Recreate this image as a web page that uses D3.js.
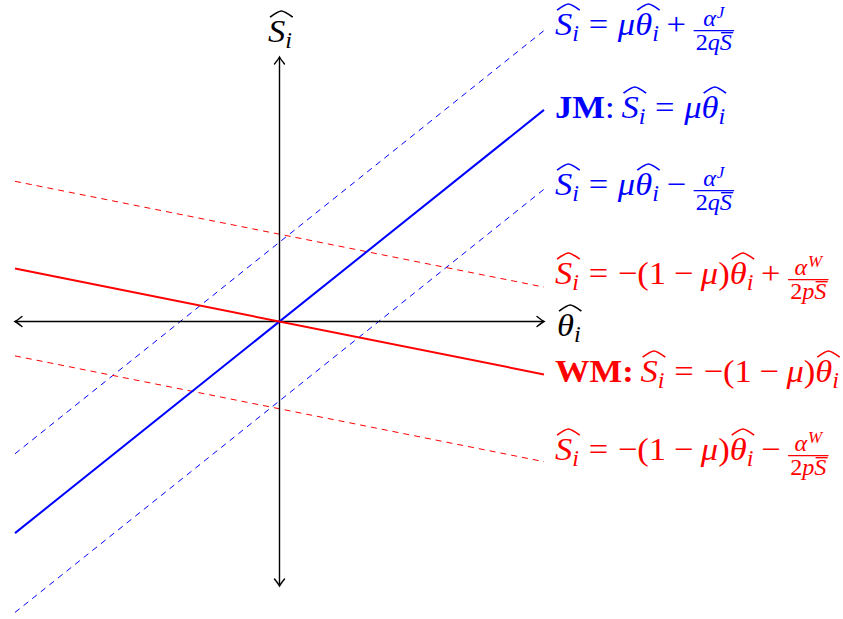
<!DOCTYPE html>
<html>
<head>
<meta charset="utf-8">
<script src="https://cdn.jsdelivr.net/npm/d3@7"></script>
<style>
  body { margin: 0; background: #fff; }
  svg text { font-family: 'Liberation Serif', 'Times New Roman', serif; }
</style>
</head>
<body>
<svg id="chart" width="843" height="619"></svg>
<script>
// ---- model values ----------------------------------------------------------
const mu = 0.8;                      // slope of the JM schedule
const shiftJ = 0.3;                  // alpha^J / (2 q S̄), in plot units
const shiftW = 0.33;                 // alpha^W / (2 p S̄), in plot units
const thetaRange = [-1, 1];          // horizontal extent of every schedule
const sRange = [-1, 1];

const lineNames  = ["JM+", "JM", "JM-", "WM+", "WM", "WM-"];
const lineSlopes = [mu, mu, mu, -(1 - mu), -(1 - mu), -(1 - mu)];
const lineShifts = [shiftJ, 0, -shiftJ, shiftW, 0, -shiftW];

// ---- styling ---------------------------------------------------------------
const BLUE = "#0000ff", RED = "#ff0000";
const styleOf = name => ({
  color: name.startsWith("JM") ? BLUE : RED,
  dashed: name.length > 2
});

const svg = d3.select("#chart");
const x = d3.scaleLinear().domain(thetaRange).range([15, 544]);
const y = d3.scaleLinear().domain(sRange).range([586, 57]);

// ---- schedules -------------------------------------------------------------
const lines = lineNames.map((name, i) => ({
  name,
  pts: thetaRange.map(t => [t, lineSlopes[i] * t + lineShifts[i]])
}));
const lineGen = d3.line().x(d => x(d[0])).y(d => y(d[1]));

// dashed first, axes, then solid on top
svg.append("g").selectAll("path")
  .data(lines.filter(l => styleOf(l.name).dashed))
  .join("path")
  .attr("d", d => lineGen(d.pts))
  .attr("fill", "none")
  .attr("stroke", d => styleOf(d.name).color)
  .attr("stroke-width", 1)
  .attr("stroke-dasharray", "6,5");

// ---- axes with arrow tips at both ends -------------------------------------
const axes = svg.append("g").attr("stroke", "#000").attr("fill", "none")
  .attr("stroke-width", 1.4);
axes.append("line").attr("x1", x(thetaRange[0])).attr("x2", x(thetaRange[1]))
  .attr("y1", y(0)).attr("y2", y(0));
axes.append("line").attr("x1", x(0)).attr("x2", x(0))
  .attr("y1", y(sRange[0])).attr("y2", y(sRange[1]));

function arrowTip(tx, ty, angle) {
  // open "to" style tip pointing in direction angle (radians)
  return axes.append("path")
    .attr("d", "M-7,-5 Q-2,-1 0,0 Q-2,1 -7,5")
    .attr("stroke-linecap", "round")
    .attr("transform", `translate(${tx},${ty}) rotate(${angle * 180 / Math.PI})`);
}
arrowTip(x(thetaRange[1]), y(0), 0);
arrowTip(x(thetaRange[0]), y(0), Math.PI);
arrowTip(x(0), y(sRange[1]), -Math.PI / 2);
arrowTip(x(0), y(sRange[0]), Math.PI / 2);

svg.append("g").selectAll("path")
  .data(lines.filter(l => !styleOf(l.name).dashed))
  .join("path")
  .attr("d", d => lineGen(d.pts))
  .attr("fill", "none")
  .attr("stroke", d => styleOf(d.name).color)
  .attr("stroke-width", 2);

// ---- tiny math typesetter --------------------------------------------------
function put(g, node, px, py, size, color) {
  if (typeof node === "string") node = { t: node };
  if (node.sp !== undefined) return { w: node.sp * size, h: 0 };
  if (node.t !== undefined || node.b !== undefined) {
    const el = g.append("text").attr("x", px).attr("y", py)
      .attr("font-size", size).attr("fill", color)
      .text(node.t !== undefined ? node.t : node.b);
    if (node.it) el.attr("font-style", "italic");
    if (node.b !== undefined) el.attr("font-weight", "bold");
    return { w: el.node().getComputedTextLength() + (node.k || 0) * size,
             h: (node.h || 0.68) * size };
  }
  if (node.seq) {
    let w = 0, h = 0;
    for (const n of node.seq) {
      const r = put(g, n, px + w, py, size, color);
      w += r.w; h = Math.max(h, r.h);
    }
    return { w, h };
  }
  if (node.sub !== undefined) {
    const b = put(g, node.base, px, py, size, color);
    const s = put(g, node.sub, px + b.w, py + 0.2 * size, size * 0.7, color);
    return { w: b.w + s.w, h: b.h };
  }
  if (node.sup !== undefined) {
    const b = put(g, node.base, px, py, size, color);
    const s = put(g, node.sup, px + b.w + 0.03 * size, py - 0.38 * size, size * 0.7, color);
    return { w: b.w + s.w + 0.03 * size, h: b.h + 0.1 * size };
  }
  if (node.hat !== undefined) {
    const b = put(g, node.hat, px, py, size, color);
    const x0 = px + 0.06 * size, x1 = px + b.w + 0.02 * size;
    const yb = py - b.h - 0.1 * size, yt = yb - 0.19 * size;
    const xm = (x0 + x1) / 2;
    g.append("path")
      .attr("d", `M${x0},${yb} Q${xm - (x1 - x0) * 0.12},${yt} ${xm},${yt} Q${xm + (x1 - x0) * 0.12},${yt} ${x1},${yb}`)
      .attr("fill", "none").attr("stroke", color).attr("stroke-width", 0.05 * size);
    return { w: b.w, h: b.h + 0.34 * size };
  }
  if (node.over !== undefined) {
    const b = put(g, node.over, px, py, size, color);
    g.append("line").attr("x1", px + 0.05 * size).attr("x2", px + b.w + 0.05 * size)
      .attr("y1", py - b.h - 0.08 * size).attr("y2", py - b.h - 0.08 * size)
      .attr("stroke", color).attr("stroke-width", 0.06 * size);
    return { w: b.w, h: b.h + 0.15 * size };
  }
  if (node.frac !== undefined) {
    const s2 = size * 0.7;
    const ng = g.append("g"), dg = g.append("g");
    const n = put(ng, node.frac[0], 0, 0, s2, color);
    const d = put(dg, node.frac[1], 0, 0, s2, color);
    const w = Math.max(n.w, d.w) + 0.12 * size;
    const axis = py - 0.14 * size;
    ng.attr("transform", `translate(${px + (w - n.w) / 2},${axis - 0.13 * size})`);
    dg.attr("transform", `translate(${px + (w - d.w) / 2},${axis + 0.6 * size})`);
    g.append("line").attr("x1", px).attr("x2", px + w)
      .attr("y1", axis).attr("y2", axis)
      .attr("stroke", color).attr("stroke-width", 0.04 * size);
    return { w, h: 0.9 * size };
  }
  return { w: 0, h: 0 };
}

// building blocks
const it = t => ({ t, it: true });
const hatS = { hat: { sub: it("i"), base: it("S") } };
const hatTheta = { hat: { sub: it("i"), base: it("θ") } };
const rel = s => ({ seq: [{ sp: 0.28 }, s, { sp: 0.28 }] });
const bin = s => ({ seq: [{ sp: 0.22 }, s, { sp: 0.22 }] });
const fracJ = { frac: [{ sup: it("J"), base: it("α") }, { seq: ["2", it("q"), { over: it("S") }] }] };
const fracW = { frac: [{ sup: it("W"), base: it("α") }, { seq: ["2", it("p"), { over: it("S") }] }] };
const wmRhs = { seq: ["−(1", bin("−"), it("μ"), ")", hatTheta] };

const FS = 32, STRETCH = 1.08;
const labels = [
  { node: { seq: [hatS, rel("="), it("μ"), hatTheta, bin("+"), fracJ] }, x: 555, y: 35, color: BLUE },
  { node: { seq: [{ b: "JM" }, ":", { sp: 0.2 }, hatS, rel("="), it("μ"), hatTheta] }, x: 555, y: 118, color: BLUE },
  { node: { seq: [hatS, rel("="), it("μ"), hatTheta, bin("−"), fracJ] }, x: 555, y: 195, color: BLUE },
  { node: { seq: [hatS, rel("="), wmRhs, bin("+"), fracW] }, x: 555, y: 284, color: RED },
  { node: { seq: [{ b: "WM:" }, { sp: 0.2 }, hatS, rel("="), wmRhs] }, x: 555, y: 382, color: RED },
  { node: { seq: [hatS, rel("="), wmRhs, bin("−"), fracW] }, x: 555, y: 460, color: RED },
  { node: hatTheta, x: 557, y: 336, color: "#000" },
  { node: hatS, x: 268, y: 42, color: "#000" }
];
const labelLayer = svg.append("g");
labels.forEach(l => {
  const g = labelLayer.append("g")
    .attr("transform", `translate(${l.x},0) scale(${STRETCH},1) translate(${-l.x},0)`);
  put(g, l.node, l.x, l.y, FS, l.color);
});
</script>
</body>
</html>
